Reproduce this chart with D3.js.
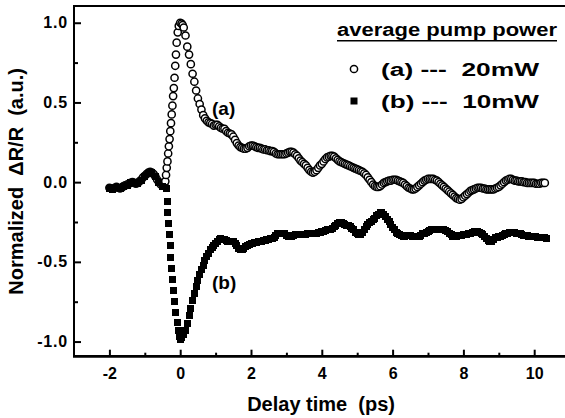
<!DOCTYPE html>
<html>
<head>
<meta charset="utf-8">
<script src="https://cdn.jsdelivr.net/npm/d3@7"></script>
<style>
body { margin: 0; background: #fff; }
#chart-area { position: relative; width: 565px; height: 418px; overflow: hidden; }
svg { display: block; }
#frame { position: absolute; left: 73px; top: 5px; width: 510px; height: 352px;
  border-top: 2px solid #000; border-left: 2px solid #000; border-bottom: 2px solid #000;
  box-sizing: border-box; pointer-events: none; }
</style>
</head>
<body>
<div id="chart-area"><div id="frame"></div></div>
<script>
/*
*    pump-probe reflectivity traces
*/

// Axis ticks
var xMajor = [-2, 0, 2, 4, 6, 8, 10],
    xMinor = [-1, 1, 3, 5, 7, 9],
    yMajor = [-1, -0.5, 0, 0.5, 1],
    yMinor = [-0.75, -0.25, 0.25, 0.75];

// Labels
var xTitle = "Delay time  (ps)",
    yTitle = "Normalized  \u0394R/R  (a.u.)",
    legendTitle = "average pump power",
    legendRows = ["(a) ---  20mW", "(b) ---  10mW"];

// (a) 20mW, open circles
var aPreStart = -2.0, aPreStep = 0.05;
var aPre = [-0.035,-0.04,-0.04,-0.035,-0.03,-0.035,-0.04,-0.035,-0.025,-0.02,
    -0.015,-0.01,-0.005,0.0,-0.005,-0.01,-0.005,0.005,0.015,0.03,
    0.04,0.05,0.06,0.065,0.06,0.05,0.035,0.015,0.0,-0.015,-0.02,-0.015];
var aRiseT = [-0.42,-0.40,-0.38,-0.36,-0.34,-0.32,-0.30,-0.28,-0.26,-0.24,-0.22,
    -0.20,-0.18,-0.16,-0.14,-0.12,-0.10,-0.07,-0.04,0.0,0.04,0.07];
var aRiseV = [0.005,0.045,0.09,0.13,0.18,0.225,0.27,0.32,0.37,0.425,0.48,
    0.54,0.59,0.655,0.73,0.80,0.875,0.94,0.98,1.0,0.995,0.985];
var aDecayStart = 0.10, aDecayStep = 0.05;
var aDecay = [
    0.97,0.92,0.85,0.80,0.74,0.68,0.63,0.575,0.525,0.49,0.455,0.42,0.40,0.385,0.375,0.37,0.365,0.355,0.36,0.36,
    0.35,0.34,0.335,0.335,0.32,0.31,0.305,0.30,0.285,0.265,0.245,0.23,0.22,0.215,0.21,0.21,0.215,0.225,0.23,0.23,
    0.225,0.22,0.215,0.215,0.21,0.205,0.205,0.20,0.20,0.195,0.195,0.19,0.18,0.175,0.175,0.175,0.175,0.175,0.18,0.185,
    0.19,0.19,0.185,0.175,0.165,0.15,0.135,0.125,0.115,0.105,0.09,0.075,0.065,0.06,0.065,0.075,0.09,0.105,0.115,0.13,
    0.145,0.155,0.16,0.165,0.165,0.16,0.15,0.14,0.13,0.125,0.12,0.115,0.11,0.105,0.10,0.095,0.09,0.085,0.08,0.075,
    0.07,0.065,0.055,0.045,0.03,0.015,0.0,-0.015,-0.025,-0.03,-0.03,-0.025,-0.015,-0.005,0.0,0.005,0.01,0.01,0.015,0.015,
    0.015,0.01,0.005,0.0,-0.005,-0.015,-0.025,-0.035,-0.04,-0.045,-0.045,-0.04,-0.03,-0.02,-0.01,0.0,0.01,0.015,0.02,0.02,
    0.02,0.02,0.015,0.01,0.0,-0.01,-0.02,-0.03,-0.04,-0.05,-0.06,-0.07,-0.08,-0.09,-0.10,-0.105,-0.11,-0.105,-0.095,-0.085,
    -0.075,-0.065,-0.055,-0.05,-0.045,-0.04,-0.035,-0.035,-0.035,-0.04,-0.04,-0.045,-0.045,-0.045,-0.045,-0.045,-0.04,-0.035,-0.03,-0.02,
    -0.01,0.0,0.01,0.015,0.02,0.02,0.015,0.01,0.01,0.005,0.005,0.005,0.0,0.0,-0.005,-0.005,-0.005,-0.005,-0.005,-0.01,
    -0.01,-0.01,-0.005,-0.005,-0.005];

// (b) 10mW, filled squares
var bPreStart = -2.0, bPreStep = 0.1;
var bPre = [-0.04,-0.045,-0.035,-0.04,-0.03,-0.02,-0.005,-0.005,-0.01,0.01,
    0.035,0.055,0.06,0.035,0.0,-0.025,-0.04];
var bDropT = [-0.37,-0.345,-0.32,-0.30,-0.28,-0.26,-0.24,-0.22,-0.19,-0.16,-0.12,-0.08,-0.04,-0.01,0.02];
var bDropV = [-0.12,-0.19,-0.26,-0.33,-0.40,-0.47,-0.54,-0.61,-0.68,-0.75,-0.82,-0.88,-0.93,-0.97,-0.99];
var bMainStart = 0.05, bMainStep = 0.05;
var bMain = [
    -0.975,-0.955,-0.93,-0.885,-0.835,-0.79,-0.745,-0.70,-0.655,-0.615,-0.58,-0.55,-0.52,-0.49,-0.465,-0.445,-0.425,-0.41,-0.395,-0.385,
    -0.37,-0.36,-0.355,-0.36,-0.36,-0.365,-0.37,-0.37,-0.37,-0.375,-0.385,-0.40,-0.415,-0.425,-0.425,-0.415,-0.405,-0.395,-0.39,-0.385,
    -0.385,-0.38,-0.38,-0.375,-0.375,-0.37,-0.365,-0.365,-0.36,-0.36,-0.355,-0.355,-0.345,-0.335,-0.325,-0.32,-0.32,-0.32,-0.325,-0.335,
    -0.34,-0.34,-0.34,-0.335,-0.33,-0.33,-0.33,-0.33,-0.33,-0.33,-0.33,-0.325,-0.32,-0.32,-0.32,-0.32,-0.32,-0.315,-0.315,-0.31,
    -0.31,-0.305,-0.30,-0.30,-0.295,-0.29,-0.28,-0.27,-0.26,-0.255,-0.255,-0.26,-0.265,-0.27,-0.275,-0.28,-0.29,-0.30,-0.315,-0.325,
    -0.33,-0.33,-0.315,-0.295,-0.28,-0.265,-0.255,-0.245,-0.235,-0.225,-0.21,-0.20,-0.19,-0.19,-0.20,-0.215,-0.235,-0.25,-0.265,-0.285,
    -0.30,-0.315,-0.325,-0.33,-0.335,-0.34,-0.34,-0.335,-0.335,-0.335,-0.34,-0.34,-0.34,-0.34,-0.34,-0.335,-0.325,-0.32,-0.315,-0.31,
    -0.305,-0.30,-0.30,-0.30,-0.295,-0.295,-0.30,-0.30,-0.30,-0.305,-0.31,-0.32,-0.33,-0.34,-0.34,-0.34,-0.335,-0.335,-0.335,-0.33,
    -0.33,-0.33,-0.325,-0.32,-0.315,-0.31,-0.31,-0.31,-0.315,-0.32,-0.33,-0.34,-0.355,-0.365,-0.37,-0.37,-0.36,-0.35,-0.345,-0.34,
    -0.34,-0.335,-0.33,-0.325,-0.32,-0.315,-0.315,-0.315,-0.315,-0.32,-0.32,-0.325,-0.33,-0.335,-0.335,-0.335,-0.34,-0.34,-0.34,-0.34,
    -0.34,-0.345,-0.345,-0.35,-0.35,-0.35,-0.355];

// helpers to pair delay times with readings
function gridded(start, step, vals) {
    return vals.map((v, i) => ({ t: +(start + i * step).toFixed(3), v: v }));
}
function paired(ts, vs) {
    return ts.map((t, i) => ({ t: t, v: vs[i] }));
}

var dataA = gridded(aPreStart, aPreStep, aPre)
    .concat(paired(aRiseT, aRiseV))
    .concat(gridded(aDecayStart, aDecayStep, aDecay));
var dataB = gridded(bPreStart, bPreStep, bPre)
    .concat(paired(bDropT, bDropV))
    .concat(gridded(bMainStart, bMainStep, bMain));

var margin = {top: 6, left: 74},
    plotW = 14 * 35.4,
    plotH = 350.7;
var font = "'Liberation Sans', Arial, sans-serif";

var svg = d3.select("#chart-area").append("svg")
    .attr("width", 565)
    .attr("height", 418);

// Scales
var x = d3.scaleLinear().domain([-3, 11]).range([0, plotW]);
var y = d3.scaleLinear().domain([-1.095, 1.105]).range([plotH, 0]);

var g = svg.append("g")
    .attr("transform", "translate(" + margin.left + "," + margin.top + ")");

// (a) open circles
g.append("g").selectAll("circle")
    .data(dataA)
    .enter().append("circle")
    .attr("cx", (d) => x(d.t))
    .attr("cy", (d) => y(d.v))
    .attr("r", 3.6)
    .attr("fill", "#fff")
    .attr("stroke", "#000")
    .attr("stroke-width", 1.5);

// (b) filled squares
g.append("g").selectAll("rect")
    .data(dataB)
    .enter().append("rect")
    .attr("x", (d) => x(d.t) - 3.5)
    .attr("y", (d) => y(d.v) - 3.5)
    .attr("width", 7)
    .attr("height", 7)
    .attr("fill", "#000")
    .attr("shape-rendering", "crispEdges");

// Axes (ticks point inward)
function styleAxis(sel) {
    sel.select(".domain").remove();
    sel.selectAll(".tick line").attr("stroke", "#000").attr("stroke-width", 2);
    sel.selectAll(".tick text")
        .attr("fill", "#000")
        .attr("font-family", font)
        .attr("font-weight", "bold")
        .attr("font-size", 16);
}
g.append("g")
    .attr("transform", "translate(0," + plotH + ")")
    .call(d3.axisBottom(x).tickValues(xMajor).tickSize(-7).tickPadding(11)
        .tickFormat((d) => String(d)))
    .call(styleAxis);
g.append("g")
    .attr("transform", "translate(0," + plotH + ")")
    .call(d3.axisBottom(x).tickValues(xMinor).tickSize(-4).tickFormat(""))
    .call(styleAxis);
g.append("g")
    .call(d3.axisLeft(y).tickValues(yMajor).tickSize(-7).tickPadding(6)
        .tickFormat((d) => d.toFixed(1)))
    .call(styleAxis)
    .selectAll(".tick text").attr("letter-spacing", 0.8);
g.append("g")
    .call(d3.axisLeft(y).tickValues(yMinor).tickSize(-4).tickFormat(""))
    .call(styleAxis);

// text helper
function label(parent, size) {
    return parent.append("text")
        .attr("font-family", font)
        .attr("font-weight", "bold")
        .attr("font-size", size)
        .attr("fill", "#000")
        .attr("xml:space", "preserve");
}

// Curve tags
label(g, 19).attr("x", x(0.9)).attr("y", y(0.42)).text("(a)");
label(g, 19).attr("x", x(0.9)).attr("y", y(-0.67)).text("(b)");

// Axis titles
label(svg, 20)
    .attr("x", margin.left + x(3.98))
    .attr("y", 411)
    .attr("text-anchor", "middle")
    .text(xTitle);
label(svg, 20)
    .attr("transform", "translate(23," + (margin.top + y(0.005)) + ") rotate(-90)")
    .attr("text-anchor", "middle")
    .text(yTitle);

// Legend
var legend = svg.append("g");
label(legend, 18)
    .attr("x", 337)
    .attr("y", 36)
    .attr("textLength", 220)
    .attr("lengthAdjust", "spacingAndGlyphs")
    .text(legendTitle);
legend.append("rect")
    .attr("x", 337).attr("y", 40)
    .attr("width", 220).attr("height", 1.5)
    .attr("fill", "#000");

legend.append("circle")
    .attr("cx", 354).attr("cy", 69)
    .attr("r", 3.6)
    .attr("fill", "#fff")
    .attr("stroke", "#000")
    .attr("stroke-width", 1.5);
legend.append("rect")
    .attr("x", 350.5).attr("y", 97.5)
    .attr("width", 7).attr("height", 7)
    .attr("fill", "#000");

legendRows.forEach((d, i) => {
    label(legend, 18)
        .attr("x", 381)
        .attr("y", 76 + i * 32)
        .attr("textLength", 158)
        .attr("lengthAdjust", "spacingAndGlyphs")
        .text(d);
});

// Frame: top, left and bottom (right edge falls outside the picture), drawn last
var x0 = margin.left, y0 = margin.top, x1 = margin.left + plotW, y1 = margin.top + plotH;
svg.append("path")
    .attr("d", "M" + x1 + "," + y0 + "H" + x0 + "V" + y1 + "H" + x1)
    .attr("fill", "none")
    .attr("stroke", "#000")
    .attr("stroke-width", 2);
</script>
</body>
</html>
